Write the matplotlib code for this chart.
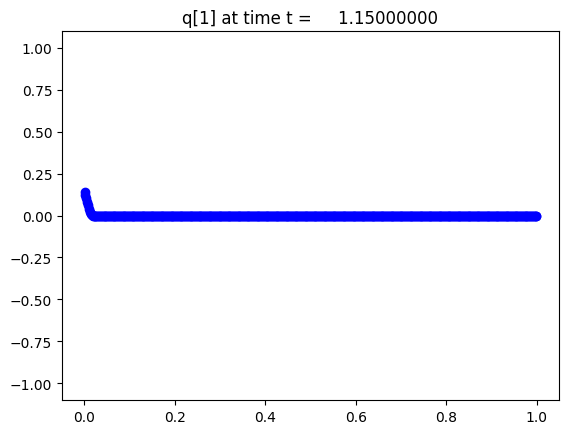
import numpy as np
import matplotlib
matplotlib.use("Agg")
import matplotlib.pyplot as plt

n_cells = 500
x = (np.arange(n_cells) + 0.5) / n_cells
q_head = [0.142, 0.124, 0.104, 0.083, 0.062, 0.041, 0.021, 0.006, 0.001]
q = np.array(q_head + [0.0] * (n_cells - len(q_head)))
title = "q[1] at time t =     1.15000000"

fig = plt.figure(figsize=(5.68, 4.35), dpi=100)
ax = fig.add_axes([62/568, 1-401/435, (559-62)/568, (401-32)/435])
ax.plot(x, q, 'bo-')
ax.set_ylim(-1.1, 1.1)
ax.set_title(title)
fig.savefig("out.png", dpi=100)
